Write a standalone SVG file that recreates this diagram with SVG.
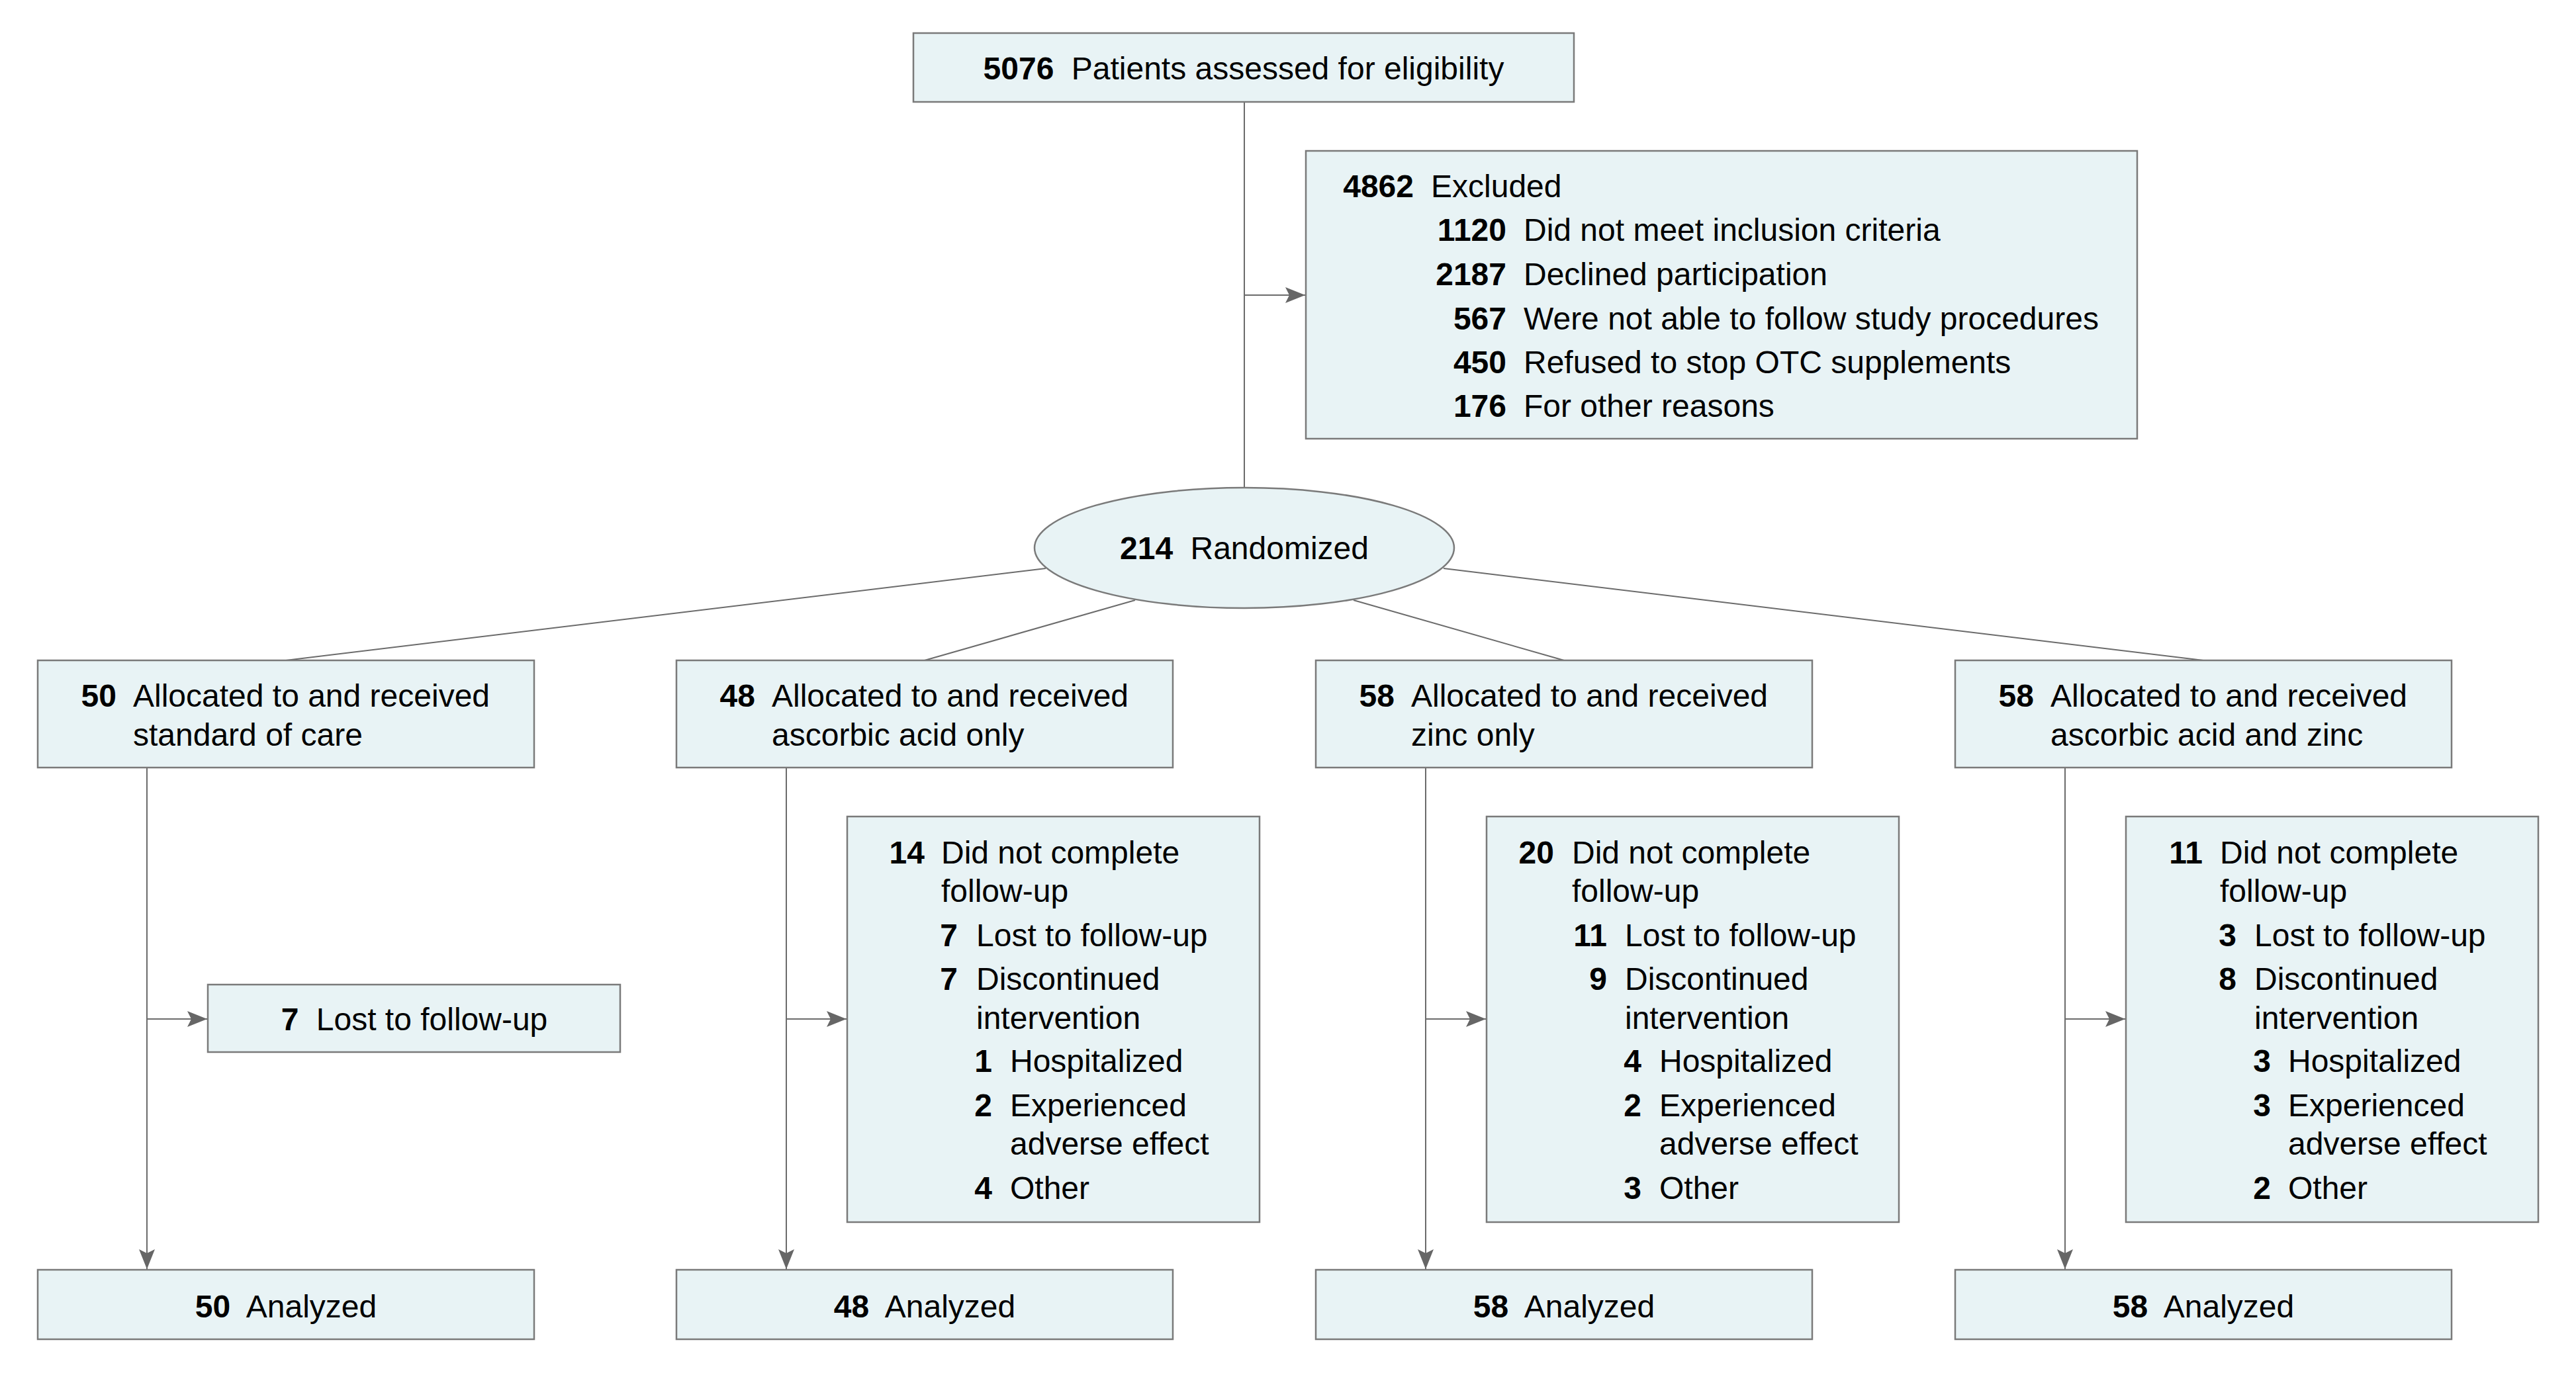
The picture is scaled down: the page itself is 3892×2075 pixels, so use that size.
<svg xmlns="http://www.w3.org/2000/svg" width="3892" height="2075" viewBox="0 0 3892 2075">
<style>
.box{fill:#E8F3F5;stroke:#7a7a7a;stroke-width:2.5}
.ln{stroke:#6b6b6b;stroke-width:2;fill:none}
.arr{marker-end:url(#ah)}
text{font-family:"Liberation Sans",Arial,sans-serif;font-size:48px;fill:#000}
.n{font-weight:bold;text-anchor:end}
.b{font-weight:bold}
.c{text-anchor:middle}
</style>
<defs>
<marker id="ah" viewBox="0 0 30 24" markerWidth="30" markerHeight="24" refX="30" refY="12" orient="auto" markerUnits="userSpaceOnUse">
<path d="M0,0 L30,12 L0,24 L6,12 Z" fill="#666666"/>
</marker>
</defs>
<rect width="3892" height="2075" fill="#ffffff"/>

<g id="connectors">
<line class="ln" x1="1880" y1="154" x2="1880" y2="740"/>
<line class="ln arr" x1="1880" y1="446" x2="1972" y2="446"/>
<line class="ln" x1="1580" y1="859" x2="432" y2="998"/>
<line class="ln" x1="1715" y1="907" x2="1397" y2="998"/>
<line class="ln" x1="2045" y1="907" x2="2363" y2="998"/>
<line class="ln" x1="2181" y1="859" x2="3329" y2="998"/>
<line class="ln arr" x1="222" y1="1160" x2="222" y2="1918"/>
<line class="ln arr" x1="222" y1="1540" x2="313" y2="1540"/>
<line class="ln arr" x1="1188" y1="1160" x2="1188" y2="1918"/>
<line class="ln arr" x1="1188" y1="1540" x2="1279" y2="1540"/>
<line class="ln arr" x1="2154" y1="1160" x2="2154" y2="1918"/>
<line class="ln arr" x1="2154" y1="1540" x2="2245" y2="1540"/>
<line class="ln arr" x1="3120" y1="1160" x2="3120" y2="1918"/>
<line class="ln arr" x1="3120" y1="1540" x2="3211" y2="1540"/>
</g>

<g id="assessed">
<rect class="box" x="1380" y="50" width="998" height="104"/>
<text class="c" x="1879" y="120"><tspan class="b">5076</tspan><tspan dx="13"> Patients assessed for eligibility</tspan></text>
</g>

<g id="excluded">
<rect class="box" x="1973" y="228" width="1256" height="435"/>
<text class="n" x="2136" y="298">4862</text><text x="2162" y="298">Excluded</text>
<text class="n" x="2276" y="364">1120</text><text x="2302" y="364">Did not meet inclusion criteria</text>
<text class="n" x="2276" y="431">2187</text><text x="2302" y="431">Declined participation</text>
<text class="n" x="2276" y="498">567</text><text x="2302" y="498">Were not able to follow study procedures</text>
<text class="n" x="2276" y="564">450</text><text x="2302" y="564">Refused to stop OTC supplements</text>
<text class="n" x="2276" y="630">176</text><text x="2302" y="630">For other reasons</text>
</g>

<g id="randomized">
<ellipse class="box" cx="1880" cy="828" rx="317" ry="91"/>
<text class="c" x="1880" y="845"><tspan class="b">214</tspan><tspan dx="13"> Randomized</tspan></text>
</g>

<g id="alloc1">
<rect class="box" x="57" y="998" width="750" height="162"/>
<text class="n" x="176" y="1068">50</text><text x="201" y="1068">Allocated to and received</text>
<text x="201" y="1127">standard of care</text>
</g>
<g id="alloc2">
<rect class="box" x="1022" y="998" width="750" height="162"/>
<text class="n" x="1141" y="1068">48</text><text x="1166" y="1068">Allocated to and received</text>
<text x="1166" y="1127">ascorbic acid only</text>
</g>
<g id="alloc3">
<rect class="box" x="1988" y="998" width="750" height="162"/>
<text class="n" x="2107" y="1068">58</text><text x="2132" y="1068">Allocated to and received</text>
<text x="2132" y="1127">zinc only</text>
</g>
<g id="alloc4">
<rect class="box" x="2954" y="998" width="750" height="162"/>
<text class="n" x="3073" y="1068">58</text><text x="3098" y="1068">Allocated to and received</text>
<text x="3098" y="1127">ascorbic acid and zinc</text>
</g>

<g id="lost1">
<rect class="box" x="314" y="1488" width="623" height="102"/>
<text class="c" x="626" y="1557"><tspan class="b">7</tspan><tspan dx="13"> Lost to follow-up</tspan></text>
</g>

<g id="followup2">
<rect class="box" x="1280" y="1234" width="623" height="613"/>
<text class="n" x="1397" y="1305">14</text><text x="1422" y="1305">Did not complete</text>
<text x="1422" y="1363">follow-up</text>
<text class="n" x="1447" y="1430">7</text><text x="1475" y="1430">Lost to follow-up</text>
<text class="n" x="1447" y="1496">7</text><text x="1475" y="1496">Discontinued</text>
<text x="1475" y="1555">intervention</text>
<text class="n" x="1499" y="1620">1</text><text x="1526" y="1620">Hospitalized</text>
<text class="n" x="1499" y="1687">2</text><text x="1526" y="1687">Experienced</text>
<text x="1526" y="1745">adverse effect</text>
<text class="n" x="1499" y="1812">4</text><text x="1526" y="1812">Other</text>
</g>

<g id="followup3">
<rect class="box" x="2246" y="1234" width="623" height="613"/>
<text class="n" x="2348" y="1305">20</text><text x="2375" y="1305">Did not complete</text>
<text x="2375" y="1363">follow-up</text>
<text class="n" x="2428" y="1430">11</text><text x="2455" y="1430">Lost to follow-up</text>
<text class="n" x="2428" y="1496">9</text><text x="2455" y="1496">Discontinued</text>
<text x="2455" y="1555">intervention</text>
<text class="n" x="2480" y="1620">4</text><text x="2507" y="1620">Hospitalized</text>
<text class="n" x="2480" y="1687">2</text><text x="2507" y="1687">Experienced</text>
<text x="2507" y="1745">adverse effect</text>
<text class="n" x="2480" y="1812">3</text><text x="2507" y="1812">Other</text>
</g>

<g id="followup4">
<rect class="box" x="3212" y="1234" width="623" height="613"/>
<text class="n" x="3328" y="1305">11</text><text x="3354" y="1305">Did not complete</text>
<text x="3354" y="1363">follow-up</text>
<text class="n" x="3379" y="1430">3</text><text x="3406" y="1430">Lost to follow-up</text>
<text class="n" x="3379" y="1496">8</text><text x="3406" y="1496">Discontinued</text>
<text x="3406" y="1555">intervention</text>
<text class="n" x="3431" y="1620">3</text><text x="3457" y="1620">Hospitalized</text>
<text class="n" x="3431" y="1687">3</text><text x="3457" y="1687">Experienced</text>
<text x="3457" y="1745">adverse effect</text>
<text class="n" x="3431" y="1812">2</text><text x="3457" y="1812">Other</text>
</g>

<g id="analyzed1">
<rect class="box" x="57" y="1919" width="750" height="105"/>
<text class="c" x="432" y="1991"><tspan class="b">50</tspan><tspan dx="13"> Analyzed</tspan></text>
</g>
<g id="analyzed2">
<rect class="box" x="1022" y="1919" width="750" height="105"/>
<text class="c" x="1397" y="1991"><tspan class="b">48</tspan><tspan dx="13"> Analyzed</tspan></text>
</g>
<g id="analyzed3">
<rect class="box" x="1988" y="1919" width="750" height="105"/>
<text class="c" x="2363" y="1991"><tspan class="b">58</tspan><tspan dx="13"> Analyzed</tspan></text>
</g>
<g id="analyzed4">
<rect class="box" x="2954" y="1919" width="750" height="105"/>
<text class="c" x="3329" y="1991"><tspan class="b">58</tspan><tspan dx="13"> Analyzed</tspan></text>
</g>
</svg>
